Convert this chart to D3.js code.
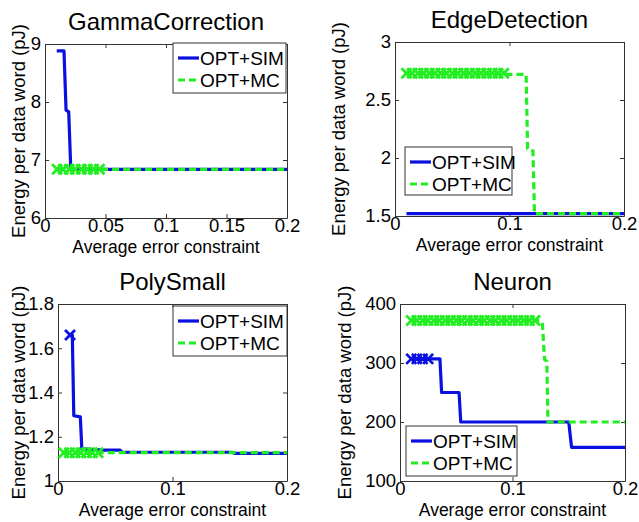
<!DOCTYPE html>
<html><head><meta charset="utf-8">
<script src="https://cdn.jsdelivr.net/npm/d3@7"></script>
<style>body{margin:0;background:#fff}svg{display:block}text{font-family:"Liberation Sans",Arial,Helvetica,sans-serif;fill:#000}</style>
</head><body><svg id="c" width="639" height="522"></svg>
<script>
// ---------- data ----------
const titles = ["GammaCorrection", "EdgeDetection", "PolySmall", "Neuron"];
const seriesNames = ["OPT+SIM", "OPT+MC"];
const xLabel = "Average error constraint";
const yLabel = "Energy per data word (pJ)";

const gammaXTicks = [0, 0.05, 0.1, 0.15, 0.2];
const gammaYTicks = [6, 7, 8, 9];
const gammaSimX = [0.0097, 0.0157, 0.0174, 0.0196, 0.0212, 0.022, 0.2];
const gammaSimY = [8.88, 8.88, 7.86, 7.83, 6.9, 6.84, 6.84];
const gammaSimMarkX = [];
const gammaSimMarkY = [];
const gammaMcX = [0.01, 0.2];
const gammaMcY = [6.84, 6.84];
const gammaMcMarkX = [0.01, 0.015, 0.02, 0.025, 0.03, 0.035, 0.04, 0.045];
const gammaMcMarkY = [6.84, 6.84, 6.84, 6.84, 6.84, 6.84, 6.84, 6.84];

const edgeXTicks = [0, 0.1, 0.2];
const edgeYTicks = [1.5, 2, 2.5, 3];
const edgeSimX = [0.01, 0.2];
const edgeSimY = [1.52, 1.52];
const edgeSimMarkX = [];
const edgeSimMarkY = [];
const edgeMcX = [0.01, 0.1145, 0.1158, 0.1205, 0.1218, 0.2];
const edgeMcY = [2.73, 2.72, 2.08, 2.06, 1.52, 1.52];
const edgeMcMarkX = [0.01, 0.015, 0.02, 0.025, 0.03, 0.035, 0.04, 0.045, 0.05, 0.055, 0.06, 0.065, 0.07, 0.075, 0.08, 0.085, 0.09, 0.095];
const edgeMcMarkY = [2.73, 2.73, 2.73, 2.73, 2.73, 2.73, 2.73, 2.73, 2.73, 2.73, 2.73, 2.73, 2.73, 2.73, 2.73, 2.73, 2.73, 2.73];

const polyXTicks = [0, 0.1, 0.2];
const polyYTicks = [1, 1.2, 1.4, 1.6, 1.8];
const polySimX = [0.0105, 0.0125, 0.0138, 0.0195, 0.0208, 0.04, 0.054, 0.056, 0.152, 0.154, 0.2];
const polySimY = [1.66, 1.66, 1.295, 1.29, 1.145, 1.14, 1.14, 1.13, 1.13, 1.125, 1.125];
const polySimMarkX = [0.0105];
const polySimMarkY = [1.66];
const polyMcX = [0.005, 0.2];
const polyMcY = [1.128, 1.128];
const polyMcMarkX = [0.005, 0.01, 0.015, 0.02, 0.025, 0.03, 0.035];
const polyMcMarkY = [1.128, 1.128, 1.128, 1.128, 1.128, 1.128, 1.128];

const neuronXTicks = [0, 0.1, 0.2];
const neuronYTicks = [100, 200, 300, 400];
const neuronSimX = [0.01, 0.0355, 0.037, 0.0525, 0.054, 0.150, 0.1525, 0.2];
const neuronSimY = [307, 307, 250, 250, 200, 200, 157, 157];
const neuronSimMarkX = [0.01, 0.015, 0.02, 0.025];
const neuronSimMarkY = [307, 307, 307, 307];
const neuronMcX = [0.01, 0.124, 0.1265, 0.1285, 0.1305, 0.1315, 0.2];
const neuronMcY = [372, 372, 368, 306, 303, 200, 200];
const neuronMcMarkX = [0.01, 0.015, 0.02, 0.025, 0.03, 0.035, 0.04, 0.045, 0.05, 0.055, 0.06, 0.065, 0.07, 0.075, 0.08, 0.085, 0.09, 0.095, 0.1, 0.105, 0.11, 0.115, 0.12];
const neuronMcMarkY = [372, 372, 372, 372, 372, 372, 372, 372, 372, 372, 372, 372, 372, 372, 372, 372, 372, 372, 372, 372, 372, 372, 372];

// ---------- layout / style ----------
const BLUE = "#0a10e0", GREEN = "#22ee22";
const panels = [
  {title: titles[0], xt: gammaXTicks, yt: gammaYTicks, ydom: [6, 9],
   sim: [gammaSimX, gammaSimY, gammaSimMarkX, gammaSimMarkY], mc: [gammaMcX, gammaMcY, gammaMcMarkX, gammaMcMarkY],
   box: {l: 45, r: 287, t: 44, b: 218}, ylab: 25, leg: {x: 173, y: 43, w: 113, h: 50}},
  {title: titles[1], xt: edgeXTicks, yt: edgeYTicks, ydom: [1.5, 3],
   sim: [edgeSimX, edgeSimY, edgeSimMarkX, edgeSimMarkY], mc: [edgeMcX, edgeMcY, edgeMcMarkX, edgeMcMarkY],
   box: {l: 395, r: 624, t: 42, b: 216}, ylab: 345, leg: {x: 405, y: 147, w: 107, h: 48}},
  {title: titles[2], xt: polyXTicks, yt: polyYTicks, ydom: [1, 1.8],
   sim: [polySimX, polySimY, polySimMarkX, polySimMarkY], mc: [polyMcX, polyMcY, polyMcMarkX, polyMcMarkY],
   box: {l: 58, r: 287, t: 304, b: 481}, ylab: 25, leg: {x: 173, y: 306, w: 114, h: 50}},
  {title: titles[3], xt: neuronXTicks, yt: neuronYTicks, ydom: [100, 400],
   sim: [neuronSimX, neuronSimY, neuronSimMarkX, neuronSimMarkY], mc: [neuronMcX, neuronMcY, neuronMcMarkX, neuronMcMarkY],
   box: {l: 400, r: 625, t: 304, b: 481}, ylab: 351, leg: {x: 406, y: 426, w: 111, h: 50}}
];

const svg = d3.select("#c");
svg.append("rect").attr("width", 639).attr("height", 522).attr("fill", "#fff");

const fmt = v => String(v);

panels.forEach(p => {
  const B = p.box;
  const x = d3.scaleLinear().domain([0, 0.2]).range([B.l, B.r]);
  const y = d3.scaleLinear().domain(p.ydom).range([B.b, B.t]);
  const g = svg.append("g");

  // title
  g.append("text").attr("x", (B.l + B.r) / 2).attr("y", B.t - 14.5)
    .attr("text-anchor", "middle").style("font-size", "24px").text(p.title);

  // axes with ticks inward
  const ax = g.append("g").attr("class", "axes");
  ax.append("g").attr("transform", `translate(0,${B.b})`)
    .call(d3.axisBottom(x).tickValues(p.xt).tickFormat(fmt).tickSizeInner(-4).tickSizeOuter(0).tickPadding(1));
  ax.append("g").attr("transform", `translate(0,${B.t})`)
    .call(d3.axisTop(x).tickValues(p.xt).tickFormat("").tickSizeInner(-4).tickSizeOuter(0));
  ax.append("g").attr("transform", `translate(${B.l},0)`)
    .call(d3.axisLeft(y).tickValues(p.yt).tickFormat(fmt).tickSizeInner(-4).tickSizeOuter(0).tickPadding(4));
  ax.append("g").attr("transform", `translate(${B.r},0)`)
    .call(d3.axisRight(y).tickValues(p.yt).tickFormat("").tickSizeInner(-4).tickSizeOuter(0));
  ax.selectAll(".domain").attr("stroke", "#333");
  ax.selectAll(".tick line").attr("stroke", "#333");
  ax.selectAll(".tick text").style("font-size", "18.5px").style("font-family", '"Liberation Sans",Arial,sans-serif').attr("fill", "#000");

  // axis labels
  g.append("text").attr("x", (B.l + B.r) / 2).attr("y", B.b + 34.5)
    .attr("text-anchor", "middle").style("font-size", "17.5px").text(xLabel);
  g.append("text").attr("transform", `translate(${p.ylab},${(B.t + B.b) / 2}) rotate(-90)`)
    .attr("text-anchor", "middle").style("font-size", "18.5px").text(yLabel);

  const line = d3.line().x(d => x(d[0])).y(d => y(d[1]));
  const pts = s => s[0].map((v, i) => [v, s[1][i]]);
  const marks = s => s[2].map((v, i) => [v, s[3][i]]);
  const drawX = (sel, data, color) => {
    const m = 5;
    sel.selectAll(null).data(data).enter().append("path")
      .attr("d", d => { const cx = x(d[0]), cy = y(d[1]);
        return `M${cx - m},${cy - m}L${cx + m},${cy + m}M${cx - m},${cy + m}L${cx + m},${cy - m}`; })
      .attr("stroke", color).attr("stroke-width", 2.8).attr("fill", "none");
  };

  // series
  g.append("path").datum(pts(p.sim)).attr("d", line).attr("fill", "none")
    .attr("stroke", BLUE).attr("stroke-width", 3.2).attr("stroke-linejoin", "round");
  drawX(g, marks(p.sim), BLUE);
  g.append("path").datum(pts(p.mc)).attr("d", line).attr("fill", "none")
    .attr("stroke", GREEN).attr("stroke-width", 3.2).attr("stroke-dasharray", "7,4");
  drawX(g, marks(p.mc), GREEN);

  // legend
  const L = p.leg;
  const lg = g.append("g");
  lg.append("rect").attr("x", L.x).attr("y", L.y).attr("width", L.w).attr("height", L.h)
    .attr("fill", "#fff").attr("stroke", "#333").attr("stroke-width", 1);
  [[BLUE, null], [GREEN, "7,4"]].forEach((st, i) => {
    const cy = L.y + 15 + i * 22;
    lg.append("line").attr("x1", L.x + 5).attr("x2", L.x + 26).attr("y1", cy).attr("y2", cy)
      .attr("stroke", st[0]).attr("stroke-width", 3.2).attr("stroke-dasharray", st[1]);
    lg.append("text").attr("x", L.x + 27).attr("y", cy).attr("dy", "0.35em")
      .style("font-size", "19px").text(seriesNames[i]);
  });
});
</script>
</body></html>
